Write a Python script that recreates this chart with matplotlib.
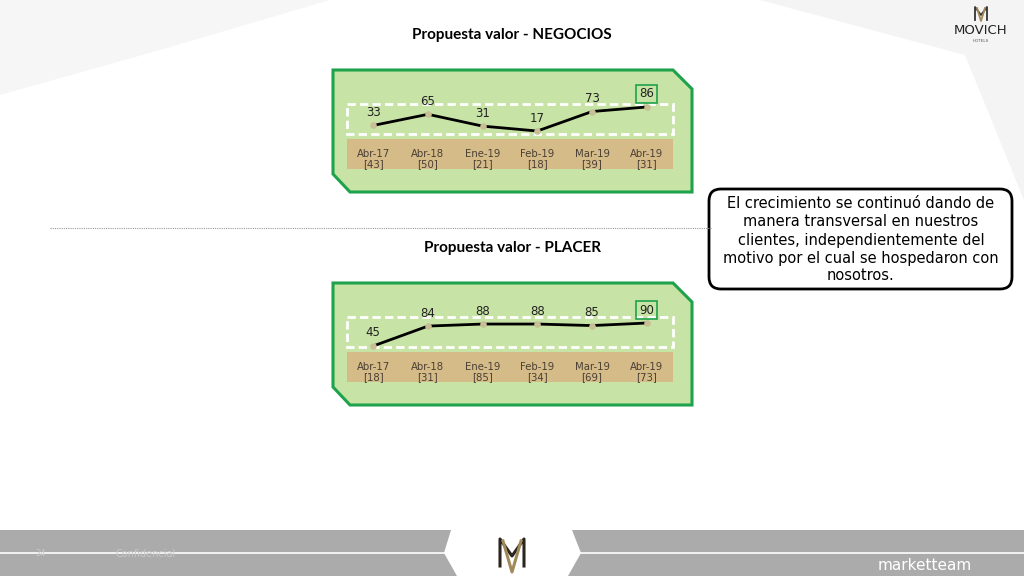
import matplotlib
matplotlib.use("Agg")
import matplotlib.pyplot as plt
from matplotlib.patches import Polygon, Rectangle, FancyBboxPatch

# datos
meses = ["Abr-17", "Abr-18", "Ene-19", "Feb-19", "Mar-19", "Abr-19"]
negocios = [33, 65, 31, 17, 73, 86]
negocios_n = [43, 50, 21, 18, 39, 31]
placer = [45, 84, 88, 88, 85, 90]
placer_n = [18, 31, 85, 34, 69, 73]

titulo_neg = "Propuesta valor - NEGOCIOS"
titulo_pla = "Propuesta valor - PLACER"
nota = ("El crecimiento se continuó dando de\nmanera transversal en nuestros\n"
        "clientes, independientemente del\nmotivo por el cual se hospedaron con\nnosotros.")

W, H = 1024, 576
fig = plt.figure(figsize=(W / 100, H / 100), dpi=100)
fig.patch.set_facecolor("white")

# fondo en coordenadas de pixel
bg = fig.add_axes([0, 0, 1, 1], zorder=0)
bg.set_xlim(0, W)
bg.set_ylim(H, 0)
bg.axis("off")

# manchas suaves del fondo
bg.add_patch(Polygon([(0, 0), (330, 0), (160, 50), (0, 95)], color="#f6f6f6", lw=0))
bg.add_patch(Polygon([(760, 0), (1024, 0), (1024, 200), (965, 55)], color="#f4f4f4", lw=0))

# pie de pagina
bg.add_patch(Rectangle((0, 530), W, 46, color="#ababab", lw=0))
bg.plot([0, W], [553, 553], color="white", lw=1.2)
bg.add_patch(Polygon([(451, 530), (572, 530), (581, 553), (568, 576), (457, 576), (444, 553)],
                     color="white", lw=0))
# logo M del pie
bg.plot([500, 500, 512, 524, 524], [566, 539, 556, 539, 566], color="#2b2520", lw=2.2)
bg.plot([503, 512, 521], [541, 572, 541], color="#a08a5a", lw=2.2)
bg.text(35, 554, "24", ha="left", va="center", fontsize=6, color="#c8c8c8")
bg.text(115, 554, "Confidencial", ha="left", va="center", fontsize=7, color="#c8c8c8")
bg.text(925, 565, "marketteam", ha="center", va="center", fontsize=11, color="white")

# logo superior
bg.plot([975, 975, 981, 987, 987], [20, 7, 15, 7, 20], color="#333333", lw=1.3)
bg.plot([977, 981, 985], [8, 21, 8], color="#a08a5a", lw=1.3)
bg.text(981, 31, "MOVICH", ha="center", va="center", fontsize=9.5, color="#222222",
        fontfamily="DejaVu Sans")
bg.text(981, 41, "HOTELS", ha="center", va="center", fontsize=3, color="#555555")

# separador
bg.plot([50, 712], [228, 228], color="#9a9a9a", lw=0.8, ls=(0, (1, 1)))

# cuadro de texto
bg.add_patch(FancyBboxPatch((709, 189), 303, 100, boxstyle="round,pad=0,rounding_size=12",
                            fc="white", ec="black", lw=2))
bg.text(861, 240, nota, ha="center", va="center", fontsize=10.5, color="black",
        linespacing=1.25, fontfamily="DejaVu Sans")


def panel(y0, titulo, valores, muestras, ylim):
    # y0 = borde superior del panel verde (pixel)
    bg.text(512, y0 - 35, titulo, ha="center", va="center", fontsize=11,
            fontweight="bold", color="black", fontfamily="Lato")
    verde = [(333, y0), (673, y0), (692, y0 + 19), (692, y0 + 122),
             (350, y0 + 122), (333, y0 + 104)]
    bg.add_patch(Polygon(verde, fc="#c8e3a6", ec="#1ea24b", lw=2.2))
    bg.add_patch(Rectangle((347, y0 + 69), 326, 30, fc="#d5bb88", lw=0))
    bg.add_patch(Rectangle((347, y0 + 34), 326, 30, fc="none", ec="white", lw=2,
                           ls=(0, (3, 1.5))))

    ax = fig.add_axes([347 / W, 1 - (y0 + 64) / H, 326 / W, 30 / H], zorder=2)
    ax.patch.set_alpha(0)
    ax.axis("off")
    x = range(len(valores))
    ax.plot(x, valores, color="black", lw=2, zorder=3, clip_on=False)
    ax.scatter(x, valores, s=14, color="#c9bf96", zorder=4, clip_on=False)
    ax.set_xlim(-0.48, len(valores) - 0.52)
    ax.set_ylim(*ylim)
    for i, v in enumerate(valores):
        ultimo = i == len(valores) - 1
        ax.annotate(str(v), (i, v), xytext=(0, 13), textcoords="offset pixels",
                    ha="center", va="center", fontsize=8.5, color="#222222",
                    annotation_clip=False,
                    bbox=dict(boxstyle="square,pad=0.25", fc="none", ec="#1ea24b", lw=1.2)
                    if ultimo else None)
    tr = ax.get_xaxis_transform()
    for i, (m, n) in enumerate(zip(meses, muestras)):
        ax.text(i, -0.83, f"{m}\n[{n}]", transform=tr, ha="center", va="center",
                fontsize=7.3, color="#4a3f35", linespacing=1.1, clip_on=False)


panel(70, titulo_neg, negocios, negocios_n, (8.4, 94.6))
panel(283, titulo_pla, placer, placer_n, (43, 101.8))

plt.savefig("out.png", dpi=100)
